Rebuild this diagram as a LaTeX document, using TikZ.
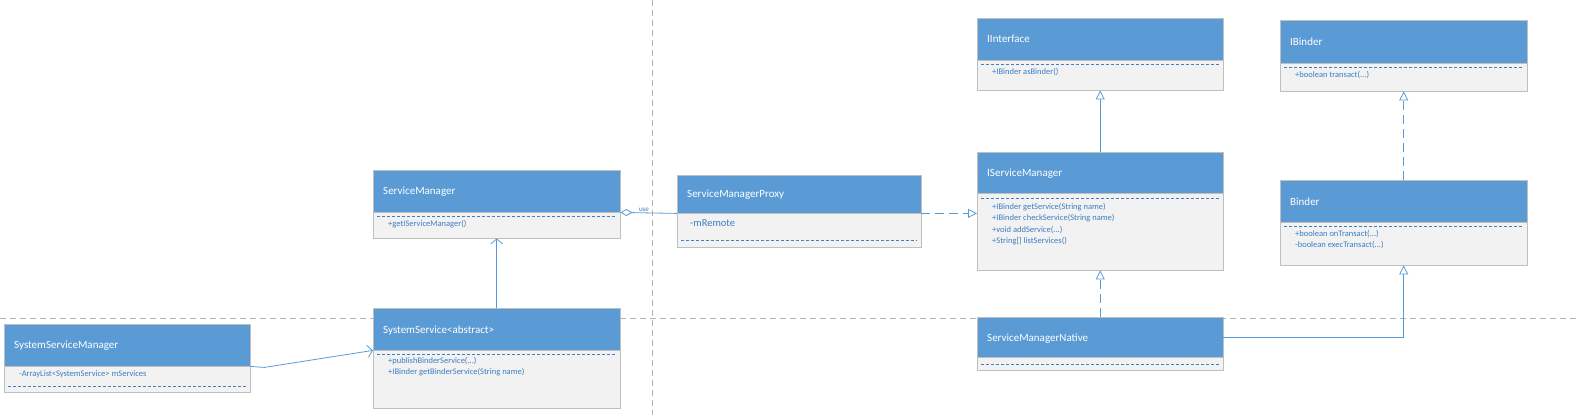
\documentclass[tikz,border=0pt]{standalone}
\usepackage{fontspec}
\setmainfont{Carlito}
\usetikzlibrary{arrows.meta}
\definecolor{hdblue}{HTML}{5B9BD5}
\definecolor{bdgray}{HTML}{BFBFBF}
\definecolor{bodyfill}{HTML}{F2F2F2}
\definecolor{txblue}{HTML}{3C7DC4}
\tikzstyle{head}=[rectangle, anchor=north west, inner sep=0pt, draw=bdgray, fill=hdblue, text=white, font=\fontsize{11}{13}\selectfont, align=left, text depth=0pt]
\tikzstyle{body}=[rectangle, anchor=north west, inner sep=0pt, draw=bdgray, fill=bodyfill]
\tikzstyle{ops}=[anchor=north west, inner sep=0pt, text=txblue, font=\fontsize{8.5}{11.5}\selectfont, align=left]
\tikzstyle{sep}=[txblue, densely dashed, line width=0.5pt]
\tikzstyle{link}=[hdblue, line width=0.8pt]
\tikzstyle{realize}=[link, dash pattern=on 9pt off 5pt, -{Triangle[open, length=9pt, width=9pt]}]
\tikzstyle{inherit}=[link, -{Triangle[open, length=9pt, width=9pt]}]
\newcommand{\umlclass}[7]{%
  \node [head, minimum width=#4pt, minimum height=#5pt, text width=#4pt-10pt] (#1-h) at (#2,#3) {\hspace*{5pt}#7};
  \node [body, minimum width=#4pt, minimum height=#6pt] (#1-b) at (#2,#3+#5) {};
}

\begin{document}
\begin{tikzpicture}[x=1pt, y=-1pt]

\useasboundingbox (0,0) rectangle (1576,415);

% separators
\draw [gray!60, dash pattern=on 6pt off 4pt] (652,0) -- (652,415);
\draw [gray!60, dash pattern=on 6pt off 4pt] (0,318) -- (1576,318);

% classes
\umlclass{sm}{373}{170}{247}{42}{26}{ServiceManager}
\umlclass{smp}{677}{175}{244}{38}{34}{ServiceManagerProxy}
\umlclass{ii}{977}{18}{246}{42}{30}{IInterface}
\umlclass{ib}{1280}{20}{247}{43}{28}{IBinder}
\umlclass{ism}{977}{152}{246}{41}{77}{IServiceManager}
\umlclass{bd}{1280}{180}{247}{42}{43}{Binder}
\umlclass{smn}{977}{317}{246}{40}{13}{ServiceManagerNative}
\umlclass{ss}{373}{308}{247}{42}{58}{SystemService<abstract>}
\umlclass{ssm}{4}{324}{246}{42}{26}{SystemServiceManager}

% members
\draw [sep] (377,216) -- (616,216);
\node [ops] (sm-o) at (388,220) {+getIServiceManager()};

\node [ops, font=\fontsize{10.5}{12}\selectfont] (smp-a) at (690,220) {-mRemote};
\draw [sep] (681,240) -- (917,240);

\draw [sep] (981,64) -- (1219,64);
\node [ops] (ii-o) at (992,68) {+IBinder asBinder()};

\draw [sep] (1284,67) -- (1523,67);
\node [ops] (ib-o) at (1295,71) {+boolean transact(...)};

\draw [sep] (981,198) -- (1219,198);
\node [ops] (ism-o) at (992,203) {+IBinder getService(String name)\\+IBinder checkService(String name)\\+void addService(...)\\+String[] listServices()};

\draw [sep] (1284,226) -- (1523,226);
\node [ops] (bd-o) at (1295,230) {+boolean onTransact(...)\\-boolean execTransact(...)};

\draw [sep] (981,364) -- (1219,364);

\draw [sep] (377,354) -- (616,354);
\node [ops] (ss-o) at (388,357) {+publishBinderService(...)\\+IBinder getBinderService(String name)};

\node [ops] (ssm-a) at (19,370) {-ArrayList<SystemService> mServices};
\draw [sep] (8,386) -- (246,386);

% relations
\draw [link, -{Straight Barb[length=5pt, width=12pt]}] (ss-h.north) -- (sm-b.south);
\draw [link, -{Straight Barb[length=5pt, width=12pt]}] (ssm-h.south east) -- ++(14,1) -- (ss-h.south west);
\draw [link, -{Diamond[open, length=12pt, width=7pt]}] (smp-h.south west) -- (sm-h.south east);
\node [text=txblue, font=\fontsize{7}{8}\selectfont, inner sep=1pt] (use) at (644,210) {use};
\draw [realize] (smp-h.south east) -- (smp-h.south east -| ism-h.west);
\draw [inherit] (ism-h.north) -- (ii-b.south);
\draw [realize] (smn-h.north) -- (ism-b.south);
\draw [realize] (bd-h.north) -- (ib-b.south);
\draw [inherit] (smn-h.east) -| (bd-b.south);

\end{tikzpicture}
\end{document}
